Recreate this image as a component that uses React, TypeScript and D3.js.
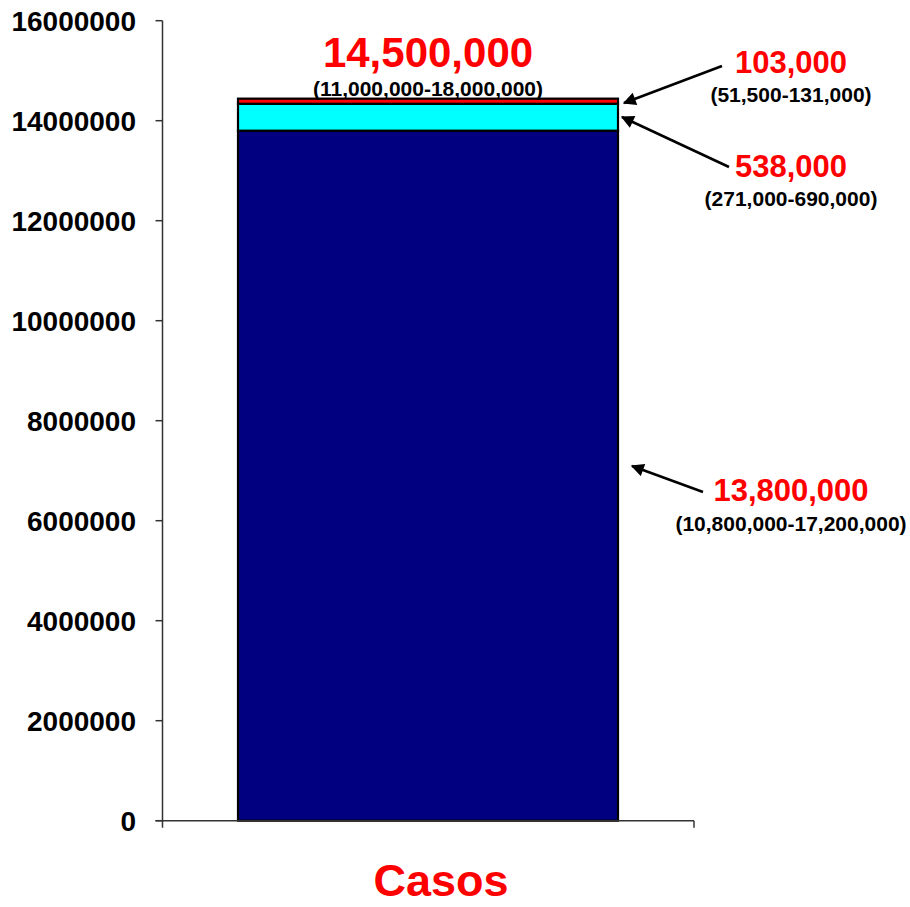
import React from "react";
import * as d3 from "d3";

const categories = ["Casos"];
const seriesNames = ["base", "middle", "top"];
const seriesValues = [13800000, 538000, 103000];
const seriesColors = ["#000080", "#00FFFF", "#FF0000"];
const yTicks = [0, 2000000, 4000000, 6000000, 8000000, 10000000, 12000000, 14000000, 16000000];
const totalLabel = "14,500,000";
const totalRange = "(11,000,000-18,000,000)";
const segLabels = ["13,800,000", "538,000", "103,000"];
const segRanges = ["(10,800,000-17,200,000)", "(271,000-690,000)", "(51,500-131,000)"];

const W = 910;
const H = 907;
const FONT = "'Liberation Sans', Arial, Helvetica, sans-serif";

export default function App() {
  const y = d3.scaleLinear().domain([0, 16000000]).range([820.7, 20.7]);
  const x = d3.scaleBand().domain(categories).range([162, 694]).paddingInner(0).paddingOuter(0.2);

  const stack = d3.stack<any>().keys(seriesNames)([
    Object.fromEntries(seriesNames.map((k, i) => [k, seriesValues[i]])),
  ]);

  const bx = x(categories[0])!;
  const bw = x.bandwidth();
  const cx = bx + bw / 2;
  const y0 = y(0);
  const axisX = 162.5;

  const arrows = [
    { from: [703, 492], tip: [632, 466] },
    { from: [729, 167], tip: [622, 117] },
    { from: [722, 66], tip: [624, 103] },
  ];
  const labelPos = [
    { x: 791, y: 501, ry: 531 },
    { x: 791, y: 177, ry: 206 },
    { x: 791, y: 73, ry: 102 },
  ];

  return (
    <svg
      width={W}
      height={H}
      style={{ position: "absolute", left: 0, top: 0, background: "#fff" }}
      fontFamily={FONT}
    >
      <defs>
        <marker id="ah" viewBox="0 0 10 10" refX="9" refY="5" markerWidth="6.2" markerHeight="5.2" orient="auto" markerUnits="strokeWidth">
          <path d="M0,0 L10,5 L0,10 z" fill="#000" />
        </marker>
      </defs>

      {stack.map((s, i) => {
        const d = s[0];
        return (
          <rect
            key={seriesNames[i]}
            x={bx}
            y={y(d[1])}
            width={bw}
            height={y(d[0]) - y(d[1])}
            fill={seriesColors[i]}
            stroke="#000"
            strokeWidth={2.2}
          />
        );
      })}

      <line x1={axisX} x2={axisX} y1={y(16000000)} y2={y0 + 7} stroke="#333" strokeWidth={1.5} />
      {yTicks.map((t) => (
        <g key={t}>
          <line x1={axisX - 7} x2={axisX} y1={y(t)} y2={y(t)} stroke="#333" strokeWidth={1.5} />
          <text x={136} y={y(t)} dy="0.36em" textAnchor="end" fontSize={28} fontWeight="bold" fill="#000">
            {String(t)}
          </text>
        </g>
      ))}

      <line x1={axisX - 7} x2={694} y1={y0} y2={y0} stroke="#333" strokeWidth={1.5} />
      <line x1={694} x2={694} y1={y0} y2={y0 + 7} stroke="#333" strokeWidth={1.5} />
      <text x={441} y={896} textAnchor="middle" fontSize={45} fontWeight="bold" fill="#FF0000">
        {categories[0]}
      </text>

      <text x={cx} y={67} textAnchor="middle" fontSize={42} fontWeight="bold" fill="#FF0000">
        {totalLabel}
      </text>
      <text x={cx} y={96} textAnchor="middle" fontSize={21} fontWeight="bold" fill="#000">
        {totalRange}
      </text>

      {arrows.map((a, i) => (
        <line
          key={"ar" + i}
          x1={a.from[0]}
          y1={a.from[1]}
          x2={a.tip[0]}
          y2={a.tip[1]}
          stroke="#000"
          strokeWidth={2.5}
          markerEnd="url(#ah)"
        />
      ))}
      {labelPos.map((p, i) => (
        <g key={"lb" + i}>
          <text x={p.x} y={p.y} textAnchor="middle" fontSize={31} fontWeight="bold" fill="#FF0000">
            {segLabels[i]}
          </text>
          <text x={p.x} y={p.ry} textAnchor="middle" fontSize={21} fontWeight="bold" fill="#000">
            {segRanges[i]}
          </text>
        </g>
      ))}
    </svg>
  );
}
